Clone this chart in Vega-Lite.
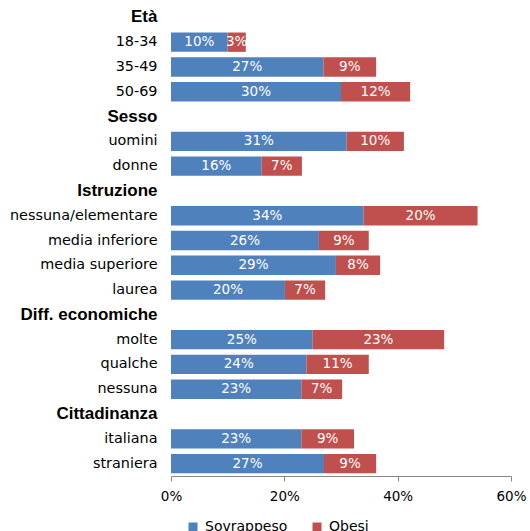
{
  "$schema": "https://vega.github.io/schema/vega-lite/v6.json",
  "autosize": {"type": "none"},
  "width": 340,
  "height": 471,
  "padding": {"left": 171, "top": 5, "right": 19, "bottom": 55},
  "background": "white",
  "config": {"view": {"stroke": null}},
  "data": {
    "values": [
      {"label": "18-34", "serie": "Sovrappeso", "ord": 0, "value": 10.0},
      {"label": "18-34", "serie": "Obesi", "ord": 1, "value": 3.2},
      {"label": "35-49", "serie": "Sovrappeso", "ord": 0, "value": 26.9},
      {"label": "35-49", "serie": "Obesi", "ord": 1, "value": 9.3},
      {"label": "50-69", "serie": "Sovrappeso", "ord": 0, "value": 30.0},
      {"label": "50-69", "serie": "Obesi", "ord": 1, "value": 12.2},
      {"label": "uomini", "serie": "Sovrappeso", "ord": 0, "value": 31.0},
      {"label": "uomini", "serie": "Obesi", "ord": 1, "value": 10.1},
      {"label": "donne", "serie": "Sovrappeso", "ord": 0, "value": 16.0},
      {"label": "donne", "serie": "Obesi", "ord": 1, "value": 7.1},
      {"label": "nessuna/elementare", "serie": "Sovrappeso", "ord": 0, "value": 34.0},
      {"label": "nessuna/elementare", "serie": "Obesi", "ord": 1, "value": 20.1},
      {"label": "media inferiore", "serie": "Sovrappeso", "ord": 0, "value": 26.1},
      {"label": "media inferiore", "serie": "Obesi", "ord": 1, "value": 8.8},
      {"label": "media superiore", "serie": "Sovrappeso", "ord": 0, "value": 29.1},
      {"label": "media superiore", "serie": "Obesi", "ord": 1, "value": 7.8},
      {"label": "laurea", "serie": "Sovrappeso", "ord": 0, "value": 20.1},
      {"label": "laurea", "serie": "Obesi", "ord": 1, "value": 7.1},
      {"label": "molte", "serie": "Sovrappeso", "ord": 0, "value": 25.0},
      {"label": "molte", "serie": "Obesi", "ord": 1, "value": 23.2},
      {"label": "qualche", "serie": "Sovrappeso", "ord": 0, "value": 23.9},
      {"label": "qualche", "serie": "Obesi", "ord": 1, "value": 11.0},
      {"label": "nessuna", "serie": "Sovrappeso", "ord": 0, "value": 23.0},
      {"label": "nessuna", "serie": "Obesi", "ord": 1, "value": 7.2},
      {"label": "italiana", "serie": "Sovrappeso", "ord": 0, "value": 23.0},
      {"label": "italiana", "serie": "Obesi", "ord": 1, "value": 9.3},
      {"label": "straniera", "serie": "Sovrappeso", "ord": 0, "value": 27.0},
      {"label": "straniera", "serie": "Obesi", "ord": 1, "value": 9.2}
    ]
  },
  "transform": [
    {"stack": "value", "groupby": ["label"], "sort": [{"field": "ord"}], "as": ["v0", "v1"]},
    {"calculate": "(datum.v0 + datum.v1) / 2", "as": "mid"},
    {"calculate": "format(datum.value, '.0f') + '%'", "as": "txt"}
  ],
  "encoding": {
    "y": {
      "field": "label",
      "type": "nominal",
      "title": null,
      "scale": {
        "domain": ["Età", "18-34", "35-49", "50-69", "Sesso", "uomini", "donne", "Istruzione", "nessuna/elementare", "media inferiore", "media superiore", "laurea", "Diff. economiche", "molte", "qualche", "nessuna", "Cittadinanza", "italiana", "straniera"],
        "paddingInner": 0.22,
        "paddingOuter": 0.11
      },
      "axis": {
        "domain": false,
        "ticks": false,
        "labelPadding": 14,
        "labelColor": "#000000",
        "labelFontSize": {"condition": {"test": "indexof(['Età','Sesso','Istruzione','Diff. economiche','Cittadinanza'], datum.value) >= 0", "value": 17}, "value": 14.4},
        "labelFont": {"condition": {"test": "indexof(['Età','Sesso','Istruzione','Diff. economiche','Cittadinanza'], datum.value) >= 0", "value": "Liberation Sans"}, "value": "DejaVu Sans"},
        "labelFontWeight": {"condition": {"test": "indexof(['Età','Sesso','Istruzione','Diff. economiche','Cittadinanza'], datum.value) >= 0", "value": "bold"}, "value": "normal"}
      }
    }
  },
  "layer": [
    {
      "mark": {"type": "bar", "cornerRadius": 0},
      "encoding": {
        "x": {
          "field": "v0",
          "type": "quantitative",
          "title": null,
          "scale": {"domain": [0, 60], "nice": false},
          "axis": {
            "values": [0, 20, 40, 60],
            "labelExpr": "datum.value + '%'",
            "labelFlush": false,
            "grid": false,
            "domainColor": "#868686",
            "tickColor": "#868686",
            "tickSize": 5,
            "labelPadding": 8,
            "labelFont": "DejaVu Sans",
            "labelFontSize": 13.5,
            "labelColor": "#000000"
          }
        },
        "x2": {"field": "v1"},
        "color": {
          "field": "serie",
          "type": "nominal",
          "scale": {"domain": ["Sovrappeso", "Obesi"], "range": ["#4F81BD", "#C0504D"]},
          "legend": {
            "title": null,
            "orient": "none",
            "direction": "horizontal",
            "legendX": 15,
            "legendY": 515,
            "symbolType": "square",
            "symbolSize": 81,
            "symbolStrokeWidth": 0,
            "labelFont": "DejaVu Sans",
            "labelFontSize": 14,
            "labelColor": "#000000",
            "labelOffset": 5,
            "columnPadding": 22,
            "padding": 0
          }
        }
      }
    },
    {
      "mark": {"type": "text", "color": "white", "font": "DejaVu Sans", "fontSize": 13.5, "baseline": "middle", "align": "center"},
      "encoding": {
        "x": {"field": "mid", "type": "quantitative"},
        "text": {"field": "txt"}
      }
    }
  ]
}
